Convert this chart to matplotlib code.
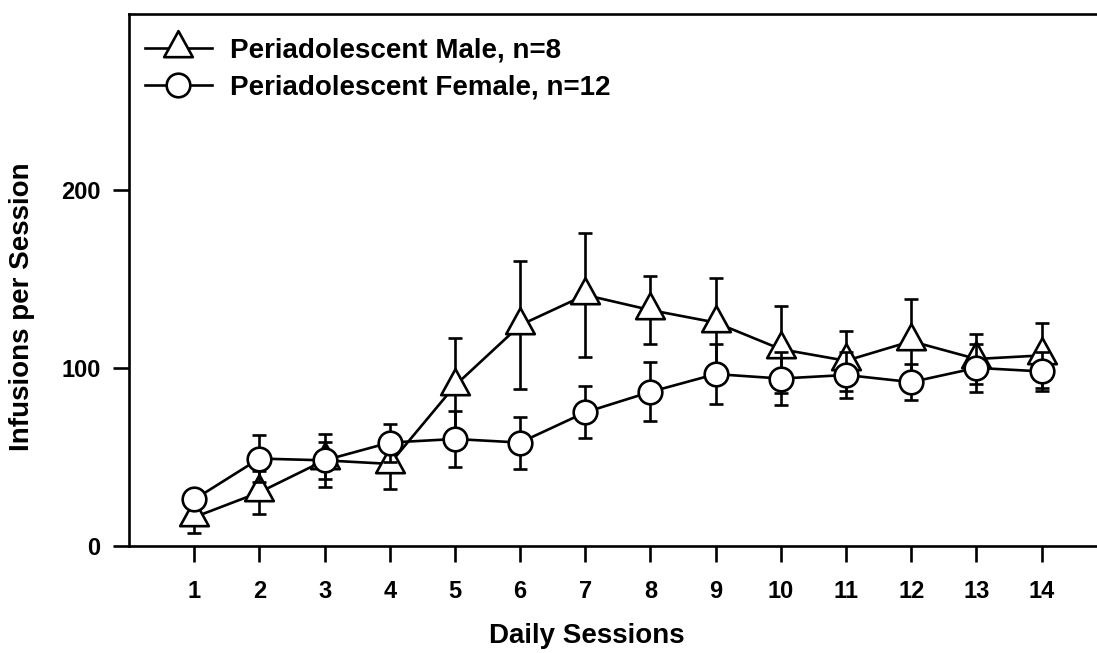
import numpy as np
import matplotlib
matplotlib.use("Agg")
import matplotlib.pyplot as plt
from matplotlib.path import Path

plt.rcParams['font.family'] = ['Liberation Sans', 'DejaVu Sans']
plt.rcParams['font.weight'] = 'bold'

# data
vecSessions = np.arange(1, 15)
vecMale = [16, 30, 48, 46, 90, 124, 141, 132.5, 125.5, 110.5, 104, 115, 105, 107]
vecMaleErr = [9, 12, 15, 14, 27, 36, 35, 19, 25, 24.5, 17, 23.5, 14, 18.5]
vecFemale = [26, 49, 48, 58, 60, 58, 75, 86.5, 96.5, 94, 96, 92, 100, 98]
vecFemaleErr = [5, 13, 10.5, 10.7, 16, 14.6, 14.6, 16.6, 17, 15, 13, 10.3, 13.3, 11]
vecLabels = ["Periadolescent Male, n=8", "Periadolescent Female, n=12"]
vecYTicks = [0, 100, 200]

# triangle centred on its centroid (like the original software)
triPath = Path([(0, 2/3), (-0.55, -1/3), (0.55, -1/3), (0, 2/3)],
               [Path.MOVETO, Path.LINETO, Path.LINETO, Path.CLOSEPOLY])

fig = plt.figure(figsize=(10.97, 6.53), dpi=100)
ax = fig.add_axes([129/1097, (653-545.7)/653, (1097-129)/1097, (545.7-14)/653])

lw = 1.9
ebMale = ax.errorbar(vecSessions, vecMale, yerr=vecMaleErr, color="black", linewidth=lw,
                     elinewidth=lw, capsize=4.8, capthick=lw, marker=triPath, markersize=25,
                     markerfacecolor="white", markeredgecolor="black", markeredgewidth=lw,
                     zorder=3)
ebFemale = ax.errorbar(vecSessions, vecFemale, yerr=vecFemaleErr, color="black", linewidth=lw,
                       elinewidth=lw, capsize=4.8, capthick=lw, marker="o", markersize=17,
                       markerfacecolor="white", markeredgecolor="black", markeredgewidth=lw,
                       zorder=4)

ax.set_xlim(0, 14.85)
ax.set_ylim(0, 299)
ax.set_xticks(vecSessions)
ax.set_yticks(vecYTicks)
ax.tick_params(axis="both", direction="out", length=11.5, width=1.9, labelsize=17)
ax.tick_params(axis="x", pad=13)
ax.tick_params(axis="y", pad=9)
for lbl in ax.get_xticklabels() + ax.get_yticklabels():
    lbl.set_fontweight("bold")

ax.spines["right"].set_visible(False)
for s in ["left", "bottom", "top"]:
    ax.spines[s].set_linewidth(1.9)

fig.text(587/1097, 1 - 636/653, "Daily Sessions", ha="center", va="center",
         fontsize=20, fontweight="bold")
fig.text(22/1097, 1 - 307/653, "Infusions per Session", ha="center", va="center",
         rotation=90, fontsize=20, fontweight="bold")

leg = ax.legend(handles=[ebMale.lines[0], ebFemale.lines[0]], labels=vecLabels,
                loc="upper left", bbox_to_anchor=(0.0165, 0.955), frameon=False,
                fontsize=20, handlelength=2.4, handletextpad=0.65, labelspacing=0.38,
                borderaxespad=0, borderpad=0)
for t in leg.get_texts():
    t.set_fontweight("bold")

fig.savefig("out.png", dpi=100)
